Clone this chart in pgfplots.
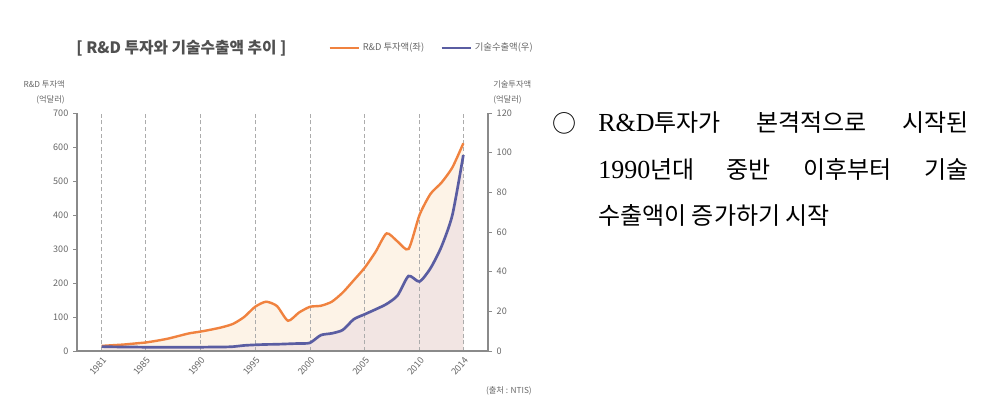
\documentclass[border=0pt]{standalone}
\usepackage{fontspec}
\setmainfont{Noto Sans CJK KR}
\newfontfamily\lserif{Liberation Serif}
\usepackage{pgfplots}
\usepackage{pgfplotstable}
\pgfplotsset{compat=1.18}

\definecolor{rdorange}{HTML}{F0823F}
\definecolor{txblue}{HTML}{5A5DA2}
\definecolor{fillcream}{HTML}{FDF3E7}
\definecolor{fillpink}{HTML}{F2E5E3}
\definecolor{axgray}{HTML}{8A8A8A}
\definecolor{txtgray}{HTML}{666666}
\definecolor{titlegray}{HTML}{505050}

\pgfplotstableread{
year rd
1981 15
1982 17
1983 19
1984 22
1985 25
1986 30
1987 36
1988 44
1989 52
1990 57
1991 63
1992 70
1993 80
1994 100
1995 130
1996 145
1997 132
1998 89
1999 113
2000 130
2001 133
2002 145
2003 172
2004 208
2005 245
2006 292
2007 346
2008 322
2009 300
2010 400
2011 462
2012 495
2013 540
2014 611
}\rdtable

\pgfplotstableread{
year tx
1981 2.2
1982 2.1
1983 2.0
1984 2.0
1985 1.9
1986 1.9
1987 1.9
1988 1.9
1989 1.9
1990 1.9
1991 2.0
1992 2.0
1993 2.2
1994 2.8
1995 3.1
1996 3.3
1997 3.4
1998 3.6
1999 3.8
2000 4.1
2001 8.0
2002 8.9
2003 10.6
2004 16.0
2005 18.5
2006 21.0
2007 23.7
2008 28.0
2009 37.8
2010 35.0
2011 41.7
2012 52.6
2013 68.6
2014 98.8
}\txtable

\pgfplotsset{
  base/.style={
    scale only axis, width=308.25pt, height=178.5pt,
    at={(57.75pt,51.75pt)}, anchor=south west,
    xmin=1978.75, xmax=2016.25,
  },
  ticklab/.style={font=\fontsize{6.8}{7.5}\selectfont, text=txtgray},
}

\begin{document}
\begin{tikzpicture}
\path[use as bounding box] (0,0) rectangle (745.5pt,315pt);

% fill under R&D (left scale)
\begin{axis}[base, hide axis, ymin=0, ymax=700]
  \addplot[fill=fillcream, draw=none, smooth, tension=0.4] table[x=year,y=rd] {\rdtable} \closedcycle;
\end{axis}

% fill under tech export (right scale)
\begin{axis}[base, hide axis, ymin=0, ymax=120]
  \addplot[fill=fillpink, draw=none, smooth, tension=0.4] table[x=year,y=tx] {\txtable} \closedcycle;
\end{axis}

% left axis, grid, R&D line
\begin{axis}[base, ymin=0, ymax=700,
  axis x line*=bottom, axis y line*=left,
  axis line style={axgray, line width=0.8pt},
  xtick={1981,1985,1990,1995,2000,2005,2010,2014},
  ytick={0,100,...,700},
  xmajorgrids, grid style={densely dashed, gray!65, line width=0.4pt},
  xtick style={draw=none},
  ytick style={axgray, line width=0.6pt},
  tick align=outside, major tick length=3pt,
  /pgf/number format/assume math mode=true,
  /pgf/number format/1000 sep={},
  xticklabel style={ticklab, rotate=50, anchor=north east, inner sep=0.5pt},
  yticklabel style={ticklab},
]
  \addplot[rdorange, line width=1.8pt, smooth, tension=0.4] table[x=year,y=rd] {\rdtable};
\end{axis}

% right axis, tech export line, legend
\begin{axis}[base, ymin=0, ymax=120,
  axis x line=none, axis y line*=right,
  axis line style={axgray, line width=0.8pt},
  ytick={0,20,...,120},
  ytick style={axgray, line width=0.6pt},
  tick align=outside, major tick length=3pt,
  /pgf/number format/assume math mode=true,
  yticklabel style={ticklab},
  legend columns=2,
  legend style={at={(0.611,1.273)}, anchor=west, draw=none, fill=none,
    inner sep=0pt, font=\fontsize{7}{8}\selectfont, text=txtgray,
    /tikz/every even column/.append style={column sep=10pt}},
  legend image code/.code={\draw[#1] (0pt,0pt) -- (22pt,0pt);},
]
  \addlegendimage{rdorange, line width=1.8pt}
  \addlegendentry{R\&D 투자액(좌)}
  \addplot[txblue, line width=2pt, smooth, tension=0.4] table[x=year,y=tx] {\txtable};
  \addlegendentry{기술수출액(우)}
\end{axis}

% title
\node[font=\bfseries\fontsize{11.8}{13}\selectfont, text=titlegray] at (136.1pt,279pt) {[ R\&D 투자와 기술수출액 추이 ]};

% axis labels
\node[anchor=east, inner sep=0pt, font=\fontsize{6.2}{7}\selectfont, text=txtgray] at (48.75pt,252pt) {R\&D 투자액};
\node[anchor=east, inner sep=0pt, font=\fontsize{6.2}{7}\selectfont, text=txtgray] at (48.75pt,240pt) {(억달러)};
\node[anchor=west, inner sep=0pt, font=\fontsize{6.2}{7}\selectfont, text=txtgray] at (369.75pt,252pt) {기술투자액};
\node[anchor=west, inner sep=0pt, font=\fontsize{6.2}{7}\selectfont, text=txtgray] at (369.75pt,240pt) {(억달러)};

% source
\node[anchor=east, inner sep=0pt, font=\fontsize{6.2}{7}\selectfont, text=txtgray] at (399pt,21.75pt) {(출처 : NTIS)};

% right text
\node[inner sep=0pt, font=\fontsize{18}{20}\selectfont] at (423pt,222.75pt) {○};
\node[anchor=west, inner sep=0pt, font=\fontsize{18}{20}\selectfont] at (448.5pt,222.75pt)
  {\hbox to 277.5pt{{\lserif\fontsize{19.5}{20}\selectfont R\&D}투자가\hfill 본격적으로\hfill 시작된}};
\node[anchor=west, inner sep=0pt, font=\fontsize{18}{20}\selectfont] at (448.5pt,188.25pt)
  {\hbox to 277.5pt{{\lserif\fontsize{19.5}{20}\selectfont 1990}년대\hfill 중반\hfill 이후부터\hfill 기술}};
\node[anchor=west, inner sep=0pt, font=\fontsize{18}{20}\selectfont] at (448.5pt,153.75pt)
  {수출액이 증가하기 시작};
\end{tikzpicture}
\end{document}
